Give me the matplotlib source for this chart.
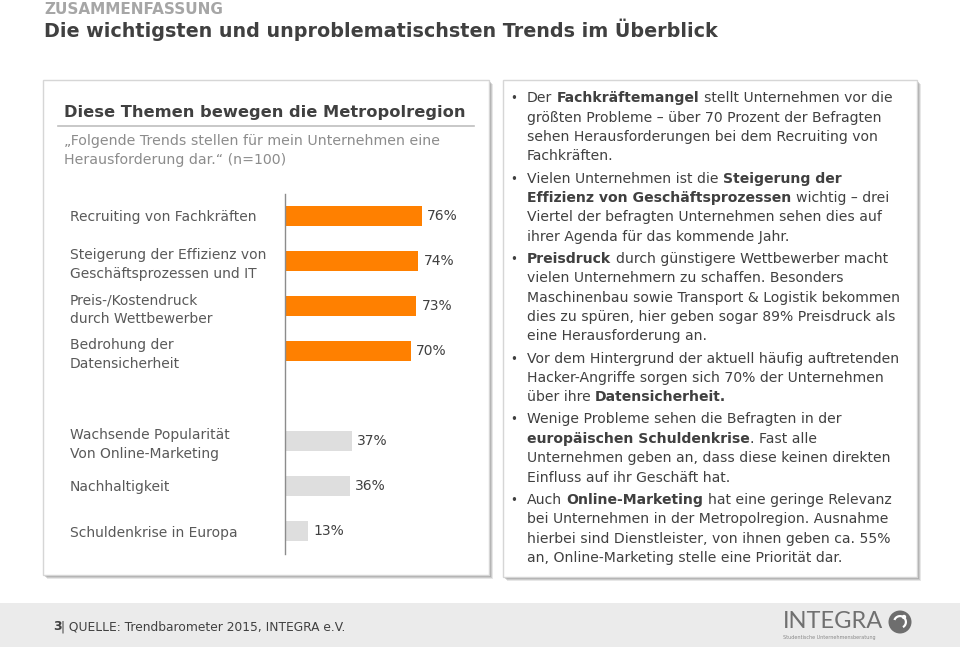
import matplotlib
matplotlib.use("Agg")
import matplotlib.pyplot as plt
from matplotlib.patches import Rectangle, Circle, Wedge

# ---------------- data ----------------
categories = [
    "Recruiting von Fachkräften",
    "Steigerung der Effizienz von\nGeschäftsprozessen und IT",
    "Preis-/Kostendruck\ndurch Wettbewerber",
    "Bedrohung der\nDatensicherheit",
    "Wachsende Popularität\nVon Online-Marketing",
    "Nachhaltigkeit",
    "Schuldenkrise in Europa",
]
values = [76, 74, 73, 70, 37, 36, 13]
groups = ["major", "major", "major", "major", "minor", "minor", "minor"]
value_labels = [f"{v}%" for v in values]

header = "ZUSAMMENFASSUNG"
title = "Die wichtigsten und unproblematischsten Trends im Überblick"
panel_title = "Diese Themen bewegen die Metropolregion"
panel_subtitle = ["\u201eFolgende Trends stellen für mein Unternehmen eine",
                  "Herausforderung dar.\u201c (n=100)"]

bullets = [
    ["Der **Fachkräftemangel** stellt Unternehmen vor die",
     "größten Probleme – über 70 Prozent der Befragten",
     "sehen Herausforderungen bei dem Recruiting von",
     "Fachkräften."],
    ["Vielen Unternehmen ist die **Steigerung der**",
     "**Effizienz von Geschäftsprozessen** wichtig – drei",
     "Viertel der befragten Unternehmen sehen dies auf",
     "ihrer Agenda für das kommende Jahr."],
    ["**Preisdruck** durch günstigere Wettbewerber macht",
     "vielen Unternehmern zu schaffen. Besonders",
     "Maschinenbau sowie Transport & Logistik bekommen",
     "dies zu spüren, hier geben sogar 89% Preisdruck als",
     "eine Herausforderung an."],
    ["Vor dem Hintergrund der aktuell häufig auftretenden",
     "Hacker-Angriffe sorgen sich 70% der Unternehmen",
     "über ihre **Datensicherheit.**"],
    ["Wenige Probleme sehen die Befragten in der",
     "**europäischen Schuldenkrise**. Fast alle",
     "Unternehmen geben an, dass diese keinen direkten",
     "Einfluss auf ihr Geschäft hat."],
    ["Auch **Online-Marketing** hat eine geringe Relevanz",
     "bei Unternehmen in der Metropolregion. Ausnahme",
     "hierbei sind Dienstleister, von ihnen geben ca. 55%",
     "an, Online-Marketing stelle eine Priorität dar."],
]

footer_page = "3"
footer_source = "| QUELLE: Trendbarometer 2015, INTEGRA e.V."
logo_text = "INTEGRA"
logo_sub = "Studentische Unternehmensberatung"

# ---------------- styling ----------------
W, H = 960, 647
ORANGE = "#FF8000"
LIGHT = "#DEDEDE"
DARK = "#404040"
MID = "#595959"
SUB = "#8C8C8C"

fig = plt.figure(figsize=(W / 100, H / 100), dpi=100)
fig.patch.set_facecolor("white")
bg = fig.add_axes([0, 0, 1, 1])
bg.set_xlim(0, W)
bg.set_ylim(H, 0)
bg.axis("off")

renderer = fig.canvas.get_renderer()


def text_width(s, **kw):
    t = bg.text(0, 0, s, **kw)
    w = t.get_window_extent(renderer).width
    t.remove()
    return w


def panel(x0, y0, x1, y1):
    for off, a in [(4, 0.18), (3, 0.25), (2, 0.35)]:
        bg.add_patch(Rectangle((x0 + off, y0 + off), x1 - x0, y1 - y0,
                               facecolor="#7a7a7a", edgecolor="none", alpha=a, zorder=1))
    bg.add_patch(Rectangle((x0, y0), x1 - x0, y1 - y0, facecolor="white",
                           edgecolor="#d6d6d6", lw=1, zorder=2))


# header
bg.text(44, 13.5, header, fontsize=11, weight="bold", color="#A6A6A6", va="baseline", ha="left")
bg.text(44, 37, title, fontsize=13.8, weight="bold", color=DARK, va="baseline", ha="left")

# panels
panel(43, 80, 489, 575)
panel(503, 80, 917, 577)

# left panel heading
bg.text(64, 112, panel_title, fontsize=11.7, weight="bold", color=DARK, va="center", ha="left", zorder=3)
bg.plot([58, 474], [126, 126], color="#BFBFBF", lw=1.2, zorder=3)
for i, line in enumerate(panel_subtitle):
    bg.text(64, 141 + 19 * i, line, fontsize=10.2, color=SUB, va="center", ha="left", zorder=3)

# chart
pos = []
shift = 0
for i, g in enumerate(groups):
    if i > 0 and g != groups[i - 1]:
        shift += 1
    pos.append(i + shift)
colors = [ORANGE if g == "major" else LIGHT for g in groups]

ax = fig.add_axes([285 / W, (H - 553.5) / H, 180 / W, 360 / H])
ax.patch.set_alpha(0)
ax.set_zorder(5)
ax.barh(pos, values, height=0.44, color=colors)
ax.set_xlim(0, 100)
ax.set_ylim(pos[-1] + 0.5, -0.5)
for s in ["top", "right", "bottom"]:
    ax.spines[s].set_visible(False)
ax.spines["left"].set_color("#8C8C8C")
ax.spines["left"].set_linewidth(1)
ax.set_xticks([])
ax.set_yticks(pos)
ax.set_yticklabels(categories, ha="left", fontsize=10, color=MID, linespacing=1.4)
ax.tick_params(axis="y", length=0, pad=215 * 0.72)
for p, v, lbl in zip(pos, values, value_labels):
    ax.annotate(lbl, (v, p), xytext=(3.8, 0), textcoords="offset points",
                va="center", ha="left", fontsize=10, color=DARK)


# right panel rich text
def rich_line(x, y, line, size, color):
    space = text_width("a a", fontsize=size) - text_width("aa", fontsize=size)
    cursor = x
    for i, part in enumerate(line.split("**")):
        if not part:
            continue
        weight = "bold" if i % 2 == 1 else "normal"
        lead = len(part) - len(part.lstrip(" "))
        trail = len(part) - len(part.rstrip(" "))
        core = part.strip(" ")
        cursor += lead * space
        if core:
            bg.text(cursor, y, core, fontsize=size, weight=weight, color=color,
                    va="baseline", ha="left", zorder=3)
            cursor += text_width(core, fontsize=size, weight=weight)
        cursor += trail * space


y = 98
step = 19.4
for para in bullets:
    bg.text(510.5, y + 4.3, "•", fontsize=8.5, color=DARK, va="baseline", ha="left", zorder=3)
    for line in para:
        rich_line(527, y + 4.3, line, 10.1, DARK)
        y += step
    y += 2.7

# footer
bg.add_patch(Rectangle((0, 603), W, H - 603, facecolor="#EBEBEB", edgecolor="none", zorder=1))
bg.text(53, 627, footer_page, fontsize=9, weight="bold", color=DARK, va="center", ha="left", zorder=3)
bg.text(61, 627, footer_source, fontsize=8.8, color=DARK, va="center", ha="left", zorder=3)
bg.text(783, 622, logo_text, fontsize=17, family=["Lato", "DejaVu Sans"], weight="normal",
        color="#707070", va="center", ha="left", zorder=3)
bg.text(783, 637.5, logo_sub, fontsize=3.5, color="#888888", va="center", ha="left", zorder=3)
bg.add_patch(Circle((900, 622), 11.5, facecolor="#6E6E6E", edgecolor="none", zorder=3))
bg.add_patch(Wedge((900, 622), 7, 200, 60, width=2.2, facecolor="white", edgecolor="none", zorder=4))
bg.add_patch(Circle((904, 617), 2.2, facecolor="white", edgecolor="none", zorder=4))

fig.savefig("out.png", dpi=100, facecolor="white")
